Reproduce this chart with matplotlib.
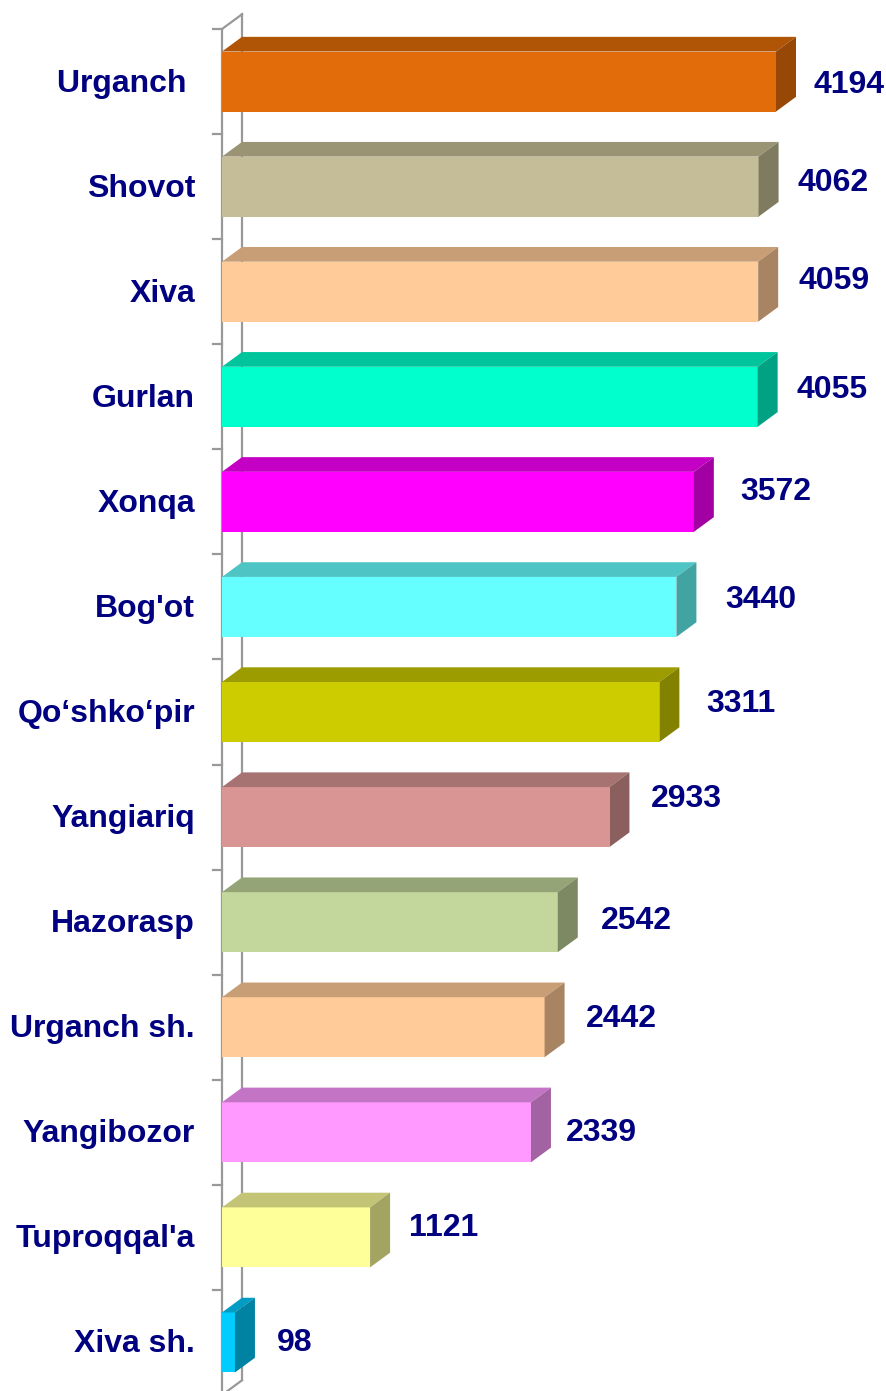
import matplotlib.pyplot as plt
from matplotlib.patches import Polygon

# data
districts = ["Urganch ", "Shovot", "Xiva", "Gurlan", "Xonqa", "Bog'ot", "Qo\u2018shko\u2018pir",
             "Yangiariq", "Hazorasp", "Urganch sh.", "Yangibozor", "Tuproqqal'a", "Xiva sh."]
values = [4194, 4062, 4059, 4055, 3572, 3440, 3311, 2933, 2542, 2442, 2339, 1121, 98]

# front, top, side colours of every bar
front_colors = ["#E36C0A", "#C4BD97", "#FFCC99", "#00FFCC", "#FF00FF", "#66FFFF", "#CCCC00",
                "#D99594", "#C3D69B", "#FFCC99", "#FF99FF", "#FFFF99", "#00CCFF"]
top_colors = ["#B05406", "#9A9474", "#C89E76", "#00C49C", "#C400C4", "#4EC4C4", "#9C9C00",
              "#A67372", "#95A477", "#C89E76", "#C474C4", "#C4C476", "#009CC4"]
side_colors = ["#974806", "#7F7B60", "#A88462", "#00A283", "#A200A2", "#42A3A3", "#828200",
               "#8B5F5E", "#7D8963", "#A88462", "#A363A3", "#A3A362", "#0082A3"]

# value label placement relative to the bar end (pixels, + is right / up)
label_dx = [37, 39, 40, 39, 46, 49, 47, 41, 43, 41, 35, 39, 42]
label_dy = [-2, 5, 12, 8, 11, 8, 9, 19, 2, 9, 0, 10, 0]

navy = "#000080"
wall = "#999999"

W, H = 886, 1391
fig = plt.figure(figsize=(W / 100, H / 100), dpi=100)
ax = fig.add_axes([222 / W, -4 / H, 664 / W, 1366 / H])

px_per_unit = 554 / 4194
xmax = 664 / px_per_unit
ax.set_xlim(0, xmax)
ax.set_ylim(12.5, -0.5)
ax.axis("off")

dx = 20 / px_per_unit      # depth in x (data units)
dy = 14.7 / 105.1          # depth in y (category units)
h = 0.571                  # bar thickness

# side wall
n = len(values)
ax.plot([0, 0], [-0.5, n - 0.5], color=wall, lw=1.6, zorder=1, clip_on=False,
        solid_capstyle="butt")
ax.plot([dx, dx], [-0.5 - dy, n - 0.5 - dy], color=wall, lw=1.6, zorder=1, clip_on=False)
ax.plot([0, dx], [-0.5, -0.5 - dy], color=wall, lw=1.6, zorder=1, clip_on=False)
ax.plot([0, dx], [n - 0.5, n - 0.5 - dy], color=wall, lw=1.6, zorder=1, clip_on=False)
tick_len = 9.5 / px_per_unit
for k in range(n + 1):
    ax.plot([-tick_len, 0], [k - 0.5, k - 0.5], color=wall, lw=1.6, zorder=1, clip_on=False)

for i, (name, v) in enumerate(zip(districts, values)):
    y0, y1 = i - h / 2, i + h / 2
    front = Polygon([(0, y0), (v, y0), (v, y1), (0, y1)], closed=True,
                    facecolor=front_colors[i], edgecolor="none", zorder=3)
    top = Polygon([(0, y0), (v, y0), (v + dx, y0 - dy), (dx, y0 - dy)], closed=True,
                  facecolor=top_colors[i], edgecolor="none", zorder=3)
    side = Polygon([(v, y0), (v + dx, y0 - dy), (v + dx, y1 - dy), (v, y1)], closed=True,
                   facecolor=side_colors[i], edgecolor="none", zorder=3)
    for p in (front, top, side):
        ax.add_patch(p)

    ax.annotate(f"{v}", xy=(v, i), xytext=(label_dx[i] * 0.72, (label_dy[i] - 1) * 0.72),
                textcoords="offset points", ha="left", va="center",
                fontsize=23, fontweight="bold", color=navy,
                family="Liberation Sans", annotation_clip=False, zorder=5)
    ax.annotate(name, xy=(0, i), xytext=(-27 * 0.72, -2 * 0.72), textcoords="offset points",
                ha="right", va="center", fontsize=23, fontweight="bold",
                color=navy, family="Liberation Sans", annotation_clip=False, zorder=5)

fig.savefig("out.png", dpi=100)
